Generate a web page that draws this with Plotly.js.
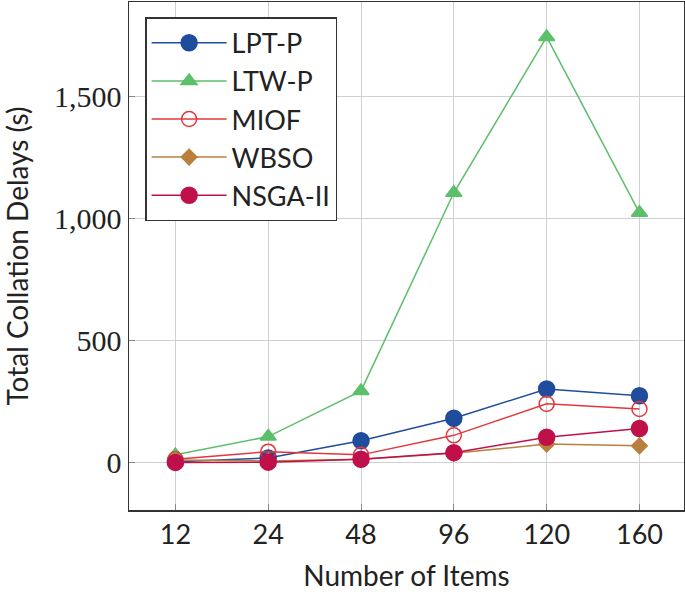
<!DOCTYPE html>
<html><head><meta charset="utf-8">
<script src="https://cdn.plot.ly/plotly-3.0.1.min.js"></script>
<style>html,body{margin:0;padding:0;background:#fff;}#chart{width:685px;height:592px;}</style>
</head><body><div id="chart"></div>
<script>
const categories = ["12", "24", "48", "96", "120", "160"];
const seriesNames = ["LPT-P", "LTW-P", "MIOF", "WBSO", "NSGA-II"];
const lptP  = [5, 20, 91, 183, 303, 275];
const ltwP  = [33, 108, 295, 1107, 1746, 1025];
const miof  = [15, 46, 33, 113, 242, 221];
const wbso  = [12, 8, 15, 40, 77, 70];
const nsga2 = [2, 3, 15, 42, 105, 141];
const yTicks = [0, 500, 1000, 1500];

const styles = [
  {color:"#1f4c9c", symbol:"circle", size:16},
  {color:"#5cbf6a", symbol:"triangle-up", size:14},
  {color:"#e2373c", symbol:"circle-open", size:15},
  {color:"#b97f3e", symbol:"diamond", size:12},
  {color:"#c0104a", symbol:"circle", size:16}
];
const values = [lptP, ltwP, miof, wbso, nsga2];
const traces = values.map((v,i)=>({
  x: categories, y: v, name: seriesNames[i], type:"scatter", mode:"lines+markers",
  line:{color:styles[i].color, width:1.5},
  marker:{color:styles[i].color, symbol:styles[i].symbol, size:styles[i].size,
          line:{color:styles[i].color, width:1.5}}
}));
const sans = "Lato, 'Open Sans', sans-serif";
const layout = {
  width:685, height:592,
  margin:{l:129, r:1, t:2, b:82},
  paper_bgcolor:"#fff", plot_bgcolor:"#fff",
  showlegend:true,
  legend:{x:0.029, y:0.97, xanchor:"left", yanchor:"top",
    bordercolor:"#333", borderwidth:1.5, bgcolor:"#fff",
    font:{family:sans, size:27, color:"#222"}, itemwidth:75, tracegroupgap:0},
  xaxis:{type:"category", range:[-0.5,5.48], showgrid:true, gridcolor:"#d0d0d0", gridwidth:1,
    showline:true, linecolor:"#333", linewidth:1.5, mirror:true,
    ticks:"inside", ticklen:6, tickcolor:"#888",
    tickfont:{family:sans, size:27, color:"#222"},
    title:{text:"Number of Items", font:{family:sans, size:28, color:"#222"}, standoff:28},
    zeroline:false},
  yaxis:{range:[-193,1889], tickvals:yTicks, tickformat:",", showgrid:true, gridcolor:"#d0d0d0", gridwidth:1,
    showline:true, linecolor:"#333", linewidth:1.5, mirror:true,
    ticks:"inside", ticklen:6, tickcolor:"#888",
    tickfont:{family:"'Liberation Serif', 'DejaVu Serif', serif", size:30, color:"#222"},
    title:{text:"Total Collation Delays (s)", font:{family:sans, size:28, color:"#222"}, standoff:22},
    zeroline:false}
};
Plotly.newPlot("chart", traces, layout, {staticPlot:true});
</script></body></html>
